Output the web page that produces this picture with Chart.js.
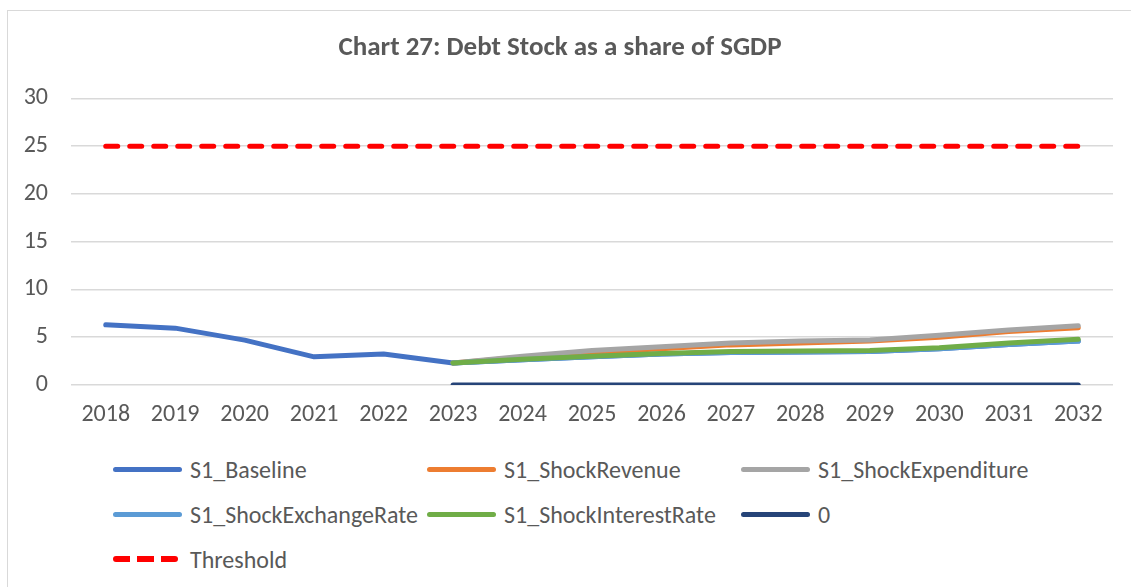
<!DOCTYPE html>
<html>
<head>
<meta charset="utf-8">
<script src="https://cdn.jsdelivr.net/npm/chart.js@4.4.1/dist/chart.umd.min.js"></script>
<style>
  html, body { margin: 0; padding: 0; background: #fff; }
  body { width: 1131px; height: 587px; position: relative; overflow: hidden;
         font-family: Carlito, Lato, "Open Sans", sans-serif; }
  #frame { position: absolute; left: 7px; top: 10px; width: 1140px; height: 600px;
           border: 1px solid #d9d9d9; box-sizing: border-box; }
  #wrap { position: absolute; left: 0; top: 0; width: 1131px; height: 440px; }
  #legend { position: absolute; left: 113px; top: 447px; }
  .item { position: absolute; display: flex; align-items: center; height: 44px;
          font-size: 24px; color: #595959; white-space: nowrap; }
  .sw { width: 69px; height: 0; margin-right: 8px; }
</style>
</head>
<body>
<div id="frame"></div>
<div id="wrap"><canvas id="myChart"></canvas></div>
<div id="legend"></div>
<script>
const years = ['2018', '2019', '2020', '2021', '2022', '2023', '2024', '2025',
               '2026', '2027', '2028', '2029', '2030', '2031', '2032'];

const baseline = [6.3, 5.95, 4.7, 2.95, 3.25, 2.3, 2.65, 2.95, 3.25, 3.4, 3.45, 3.5, 3.8, 4.25, 4.6];
const shockRevenue = [null, null, null, null, null, 2.3, 2.9, 3.4, 3.8, 4.2, 4.4, 4.6, 5.0, 5.6, 6.0];
const shockExpenditure = [null, null, null, null, null, 2.3, 3.0, 3.6, 4.0, 4.4, 4.6, 4.7, 5.2, 5.75, 6.2];
const shockExchangeRate = [null, null, null, null, null, 2.3, 2.65, 2.95, 3.25, 3.4, 3.45, 3.5, 3.8, 4.25, 4.6];
const shockInterestRate = [null, null, null, null, null, 2.3, 2.7, 3.0, 3.3, 3.5, 3.55, 3.6, 3.9, 4.4, 4.8];
const zeroLine = [null, null, null, null, null, 0, 0, 0, 0, 0, 0, 0, 0, 0, 0];
const threshold = [25, 25, 25, 25, 25, 25, 25, 25, 25, 25, 25, 25, 25, 25, 25];

const yTicks = [0, 5, 10, 15, 20, 25, 30];

const series = [
    { label: 'S1_Baseline', data: baseline, color: '#4472C4' },
    { label: 'S1_ShockRevenue', data: shockRevenue, color: '#ED7D31' },
    { label: 'S1_ShockExpenditure', data: shockExpenditure, color: '#A5A5A5' },
    { label: 'S1_ShockExchangeRate', data: shockExchangeRate, color: '#5B9BD5' },
    { label: 'S1_ShockInterestRate', data: shockInterestRate, color: '#70AD47' },
    { label: '0', data: zeroLine, color: '#264478' },
    { label: 'Threshold', data: threshold, color: '#FF0000', dash: [12, 12] }
];

const fontFam = 'Carlito, Lato, "Open Sans", sans-serif';

const datasets = series.map((s, i) => ({
    label: s.label,
    data: s.data,
    borderColor: s.color,
    backgroundColor: s.color,
    borderWidth: 5,
    borderDash: s.dash || [],
    borderCapStyle: 'round',
    borderJoinStyle: 'round',
    pointRadius: 0,
    tension: 0,
    spanGaps: false,
    order: -i   // later series drawn on top, like Excel
}));

const ctx = document.getElementById('myChart');
const myChart = new Chart(ctx, {
    type: 'line',
    data: { labels: years, datasets: datasets },
    options: {
        responsive: true,
        maintainAspectRatio: false,
        animation: false,
        layout: { padding: { left: 7, right: 18, top: 0, bottom: 0 } },
        plugins: {
            legend: { display: false },
            tooltip: { enabled: false },
            title: {
                display: true,
                text: 'Chart 27: Debt Stock as a share of SGDP',
                color: '#595959',
                font: { family: fontFam, size: 27, weight: 'bold' },
                padding: { top: 32, bottom: 34 }
            }
        },
        scales: {
            x: {
                offset: true,
                grid: { display: false, drawTicks: false },
                border: { display: false },
                ticks: { color: '#595959', font: { family: fontFam, size: 24 }, padding: 16, maxRotation: 0 },
                afterFit: (scale) => { scale.height = 55; }
            },
            y: {
                min: 0,
                max: 30,
                afterBuildTicks: (scale) => { scale.ticks = yTicks.map(v => ({ value: v })); },
                grid: { color: '#d9d9d9', lineWidth: 1.5, drawTicks: false },
                border: { display: false },
                ticks: { color: '#595959', font: { family: fontFam, size: 24 }, padding: 23 },
                afterFit: (scale) => { scale.width = 64; }
            }
        }
    }
});

// html legend laid out in three columns like the original
const legend = document.getElementById('legend');
series.forEach((s, i) => {
    const item = document.createElement('div');
    item.className = 'item';
    item.style.left = (i % 3) * 314 + 'px';
    item.style.top = Math.floor(i / 3) * 45 + 'px';
    const sw = document.createElement('span');
    sw.className = 'sw';
    if (s.dash) {
        sw.style.width = '65px';
        sw.style.marginRight = '12px';
        sw.style.background = 'repeating-linear-gradient(90deg,' + s.color + ' 0 17px, transparent 17px 24px)';
        sw.style.height = '6px';
        sw.style.borderRadius = '3px';
    } else {
        sw.style.borderTop = '5px solid ' + s.color;
        sw.style.borderRadius = '3px';
    }
    item.appendChild(sw);
    item.appendChild(document.createTextNode(s.label));
    legend.appendChild(item);
});
</script>
</body>
</html>
